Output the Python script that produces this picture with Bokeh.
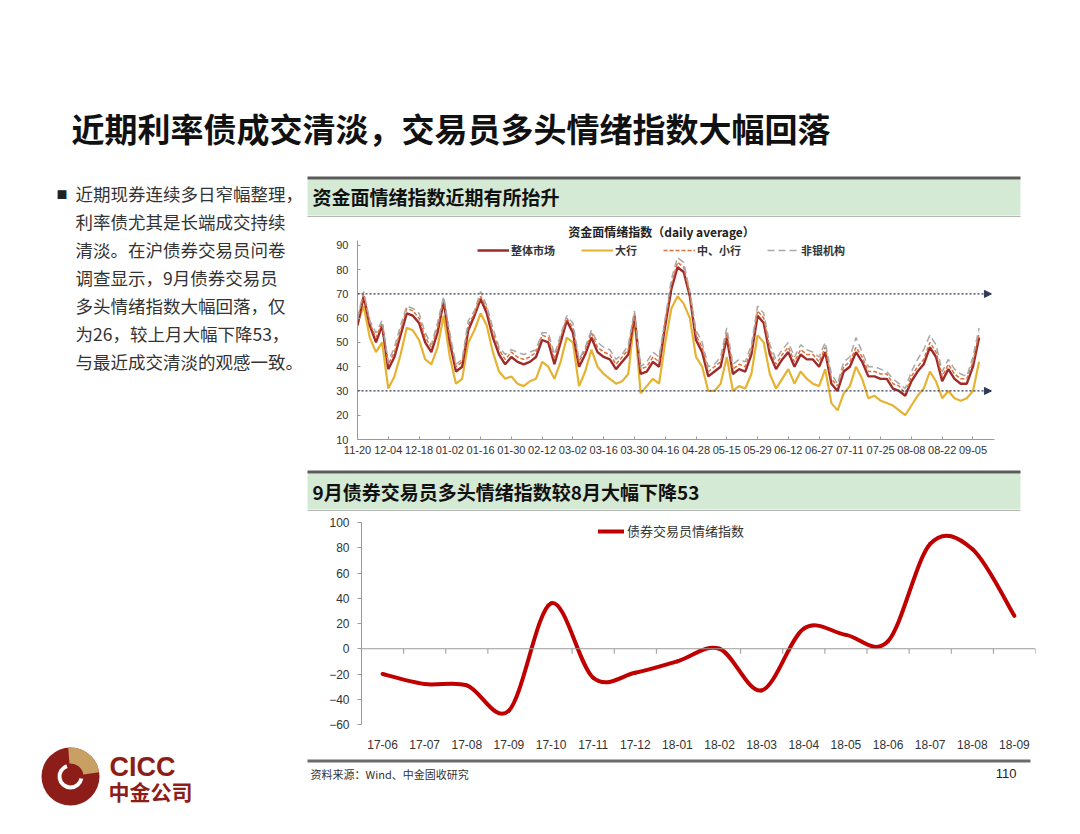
from bokeh.plotting import figure
from bokeh.layouts import column, row
from bokeh.models import (Range1d, FixedTicker, Legend, LegendItem, Arrow, NormalHead, Span)
from bokeh.core.properties import value
from bokeh.embed import file_html
from bokeh.resources import INLINE

CJK = "Noto Sans CJK SC"
LAT = "Liberation Sans"

# ---------------- data ----------------
slide_title = "近期利率债成交清淡，交易员多头情绪指数大幅回落"
body_lines = ["近期现券连续多日窄幅整理，", "利率债尤其是长端成交持续", "清淡。在沪债券交易员问卷",
              "调查显示，9月债券交易员", "多头情绪指数大幅回落，仅", "为26，较上月大幅下降53，",
              "与最近成交清淡的观感一致。"]
panel1_title = "资金面情绪指数近期有所抬升"
chart1_title = "资金面情绪指数（daily average）"
panel2_title = "9月债券交易员多头情绪指数较8月大幅下降53"
source_note = "资料来源：Wind、中金固收研究"
page_no = "110"

# daily chart: trading-day index (every 2nd trading day), tick labels every 10 days
day_ticks = ["11-20", "12-04", "12-18", "01-02", "01-16", "01-30", "02-12", "03-02", "03-16",
             "03-30", "04-16", "04-28", "05-15", "05-29", "06-12", "06-27", "07-11", "07-25",
             "08-08", "08-22", "09-05"]
day_idx = list(range(0, 203, 2))
series_names = ["整体市场", "大行", "中、小行", "非银机构"]
total_mkt = [57, 69, 57, 50, 57, 39, 44, 53, 62, 61,
             58, 50, 46, 54, 67, 50, 38, 40, 55, 61,
             68, 62, 52, 45, 41, 44, 42, 41, 42, 44,
             51, 50, 41, 50, 59, 54, 40, 45, 52, 46,
             44, 43, 39, 42, 45, 61, 37, 38, 42, 40,
             57, 72, 81, 79, 69, 51, 46, 36, 38, 40,
             52, 37, 39, 38, 45, 61, 58, 45, 39, 43,
             46, 40, 45, 43, 43, 40, 46, 33, 30, 38,
             40, 46, 42, 36, 36, 35, 35, 31, 30, 28,
             34, 38, 41, 48, 44, 34, 39, 35, 33, 33,
             40, 52]
big_banks = [58, 65, 52, 46, 50, 31, 36, 45, 56, 55,
             51, 43, 41, 48, 61, 44, 33, 35, 50, 55,
             62, 57, 46, 38, 35, 36, 33, 32, 34, 35,
             42, 40, 35, 42, 52, 50, 32, 38, 47, 40,
             37, 35, 33, 34, 37, 60, 29, 32, 35, 33,
             50, 64, 69, 66, 60, 44, 40, 30, 30, 33,
             44, 30, 32, 31, 37, 53, 50, 37, 31, 35,
             39, 33, 38, 35, 33, 32, 39, 25, 22, 29,
             32, 40, 35, 27, 28, 26, 25, 24, 22, 20,
             24, 28, 31, 38, 34, 27, 30, 27, 26, 27,
             30, 42]
small_banks = [59, 70, 58, 52, 58, 41, 46, 55, 64, 63,
               60, 52, 48, 56, 68, 52, 40, 42, 57, 62,
               69, 64, 54, 47, 43, 46, 44, 43, 44, 46,
               53, 52, 43, 52, 60, 56, 42, 47, 54, 48,
               46, 45, 41, 44, 47, 62, 39, 40, 44, 42,
               59, 74, 83, 81, 70, 53, 48, 38, 40, 42,
               54, 39, 41, 40, 47, 63, 60, 47, 41, 45,
               48, 42, 47, 45, 45, 42, 48, 35, 32, 40,
               42, 48, 44, 38, 38, 37, 37, 33, 32, 29,
               36, 40, 43, 50, 46, 36, 41, 37, 35, 35,
               42, 54]
non_banks = [60, 71, 59, 54, 59, 42, 48, 57, 65, 64,
             62, 54, 49, 58, 69, 54, 41, 43, 59, 63,
             71, 65, 56, 48, 45, 47, 46, 45, 46, 47,
             54, 54, 45, 53, 61, 58, 43, 48, 55, 50,
             48, 47, 43, 45, 49, 63, 40, 42, 46, 44,
             60, 76, 85, 83, 71, 55, 50, 40, 41, 44,
             56, 41, 43, 42, 49, 65, 62, 49, 43, 47,
             50, 44, 49, 47, 46, 44, 50, 37, 33, 42,
             44, 52, 46, 40, 40, 39, 38, 35, 33, 31,
             38, 43, 47, 53, 49, 38, 43, 39, 37, 36,
             44, 56]
guide_levels = [70, 30]

# monthly chart
months = ["17-06", "17-07", "17-08", "17-09", "17-10", "17-11", "17-12", "18-01", "18-02",
          "18-03", "18-04", "18-05", "18-06", "18-07", "18-08", "18-09"]
trader_index = [-20, -28, -29, -49, 36, -23, -19, -10, 0, -33, 16, 11, 6, 83, 79, 26]
trader_label = "债券交易员情绪指数"

# ---------------- helpers ----------------
def deco(w, h, x0, x1, y0, y1):
    p = figure(width=w, height=h, x_range=Range1d(x0, x1), y_range=Range1d(y1, y0),
               x_axis_type=None, y_axis_type=None, toolbar_location=None,
               output_backend="svg", min_border=0, frame_align=False)
    p.outline_line_color = None
    p.background_fill_color = "white"
    p.border_fill_color = "white"
    return p

def txt(p, x, y, s, size, bold=False, color="#222222", align="left", font=CJK):
    p.text(x=[x], y=[y], text=[s], text_font=value(font), text_font_size=size,
           text_font_style="bold" if bold else "normal", text_color=color,
           text_align=align, text_baseline="middle")

GREEN = "#D5EAD5"
DARK = "#5A5A5A"

# ---------------- title ----------------
LW = 302
RW = 743
t = deco(LW + RW, 170, 0, LW + RW, 0, 170)
txt(t, 71, 127, slide_title, "33px", bold=True, color="#111111")

# ---------------- left column ----------------
lf = deco(LW, 640, 0, 302, 170, 810)
txt(lf, 56, 193, "■", "11px", color="#222222")
for k, s in enumerate(body_lines):
    txt(lf, 75, 193 + 28 * k, s, "17.5px", color="#333333")
# logo
lf.circle(x=[70], y=[776], radius=29, fill_color="#8C1D18", line_color=None)
lf.annular_wedge(x=[70], y=[776], inner_radius=13, outer_radius=29,
                 start_angle=0.15, end_angle=1.65, fill_color="#C9A063", line_color=None)
lf.annular_wedge(x=[70], y=[776], inner_radius=9, outer_radius=13,
                 start_angle=1.9, end_angle=6.1, fill_color="white", line_color=None)
txt(lf, 109, 766, "CICC", "27px", bold=True, color="#8C1D18", font=LAT)
txt(lf, 108, 790, "中金公司", "21px", bold=True, color="#8C1D18")

# ---------------- right column ----------------
h1 = deco(RW, 70, 302, 1045, 170, 240)
h1.quad(left=[307], right=[1020], top=[179], bottom=[215], fill_color=GREEN, line_color=None)
h1.segment(x0=[307], x1=[1020], y0=[177.5], y1=[177.5], line_color=DARK, line_width=3)
h1.segment(x0=[307], x1=[1020], y0=[216], y1=[216], line_color="#B5B5B5", line_width=1)
txt(h1, 312, 196, panel1_title, "19px", bold=True, color="#111111")
txt(h1, 661, 231, chart1_title, "12px", bold=True, color="#222222", align="center")

# daily chart
c1 = figure(width=RW, height=222, x_range=Range1d(0, 207), y_range=Range1d(10, 92),
            toolbar_location=None, output_backend="svg", frame_align=False,
            min_border_left=55, min_border_right=51, min_border_top=0, min_border_bottom=23)
c1.outline_line_color = None
c1.grid.visible = False
r_big = c1.line(day_idx, big_banks, line_color="#E6B232", line_width=2.2)
r_tot = c1.line(day_idx, total_mkt, line_color="#9E2A2B", line_width=2.4)
r_small = c1.line(day_idx, small_banks, line_color="#E0703A", line_width=1.5, line_dash="4 2")
r_non = c1.line(day_idx, non_banks, line_color="#A8A8A8", line_width=1.5, line_dash="7 4")
for lv in guide_levels:
    c1.add_layout(Arrow(end=NormalHead(size=7, fill_color="#2E3A59", line_color="#2E3A59"),
                        x_start=0, y_start=lv, x_end=206, y_end=lv,
                        line_color="#2E3A59", line_dash="2 2", line_width=1.2))
c1.xaxis.ticker = FixedTicker(ticks=[10 * i for i in range(len(day_ticks))])
c1.xaxis.major_label_overrides = {10 * i: s for i, s in enumerate(day_ticks)}
c1.yaxis.ticker = FixedTicker(ticks=list(range(10, 91, 10)))
for ax in (c1.xaxis, c1.yaxis):
    ax.axis_line_color = "#9A9A9A"
    ax.major_tick_line_color = "#9A9A9A"
    ax.major_tick_in = 3
    ax.major_tick_out = 0
    ax.minor_tick_line_color = None
    ax.major_label_text_font = LAT
    ax.major_label_text_font_size = "11px"
    ax.major_label_text_color = "#333333"
c1.yaxis.major_label_standoff = 9
c1.xaxis.major_label_standoff = 6
leg1 = Legend(items=[LegendItem(label=series_names[0], renderers=[r_tot]),
                     LegendItem(label=series_names[1], renderers=[r_big]),
                     LegendItem(label=series_names[2], renderers=[r_small]),
                     LegendItem(label=series_names[3], renderers=[r_non])],
              orientation="horizontal", location=(120, 181),
              label_text_font=CJK, label_text_font_size="11px", label_text_font_style="bold",
              label_text_color="#333333", glyph_width=32, glyph_height=12, label_height=12,
              label_standoff=2, spacing=26, padding=0, margin=0,
              border_line_color=None, background_fill_alpha=0)
c1.add_layout(leg1)

h2 = deco(RW, 50, 302, 1045, 462, 512)
h2.quad(left=[307], right=[1020], top=[473], bottom=[509], fill_color=GREEN, line_color=None)
h2.segment(x0=[307], x1=[1020], y0=[471.5], y1=[471.5], line_color=DARK, line_width=3)
h2.segment(x0=[307], x1=[1020], y0=[510], y1=[510], line_color="#B5B5B5", line_width=1)
txt(h2, 312, 491, panel2_title, "19px", bold=True, color="#111111")

# monthly chart
n = len(months)
c2 = figure(width=RW, height=245, x_range=Range1d(-0.5, n - 0.5), y_range=Range1d(-60, 100),
            toolbar_location=None, output_backend="svg", frame_align=False,
            min_border_left=59, min_border_right=10, min_border_top=10, min_border_bottom=33)
c2.outline_line_color = None
c2.grid.visible = False
xs = list(range(n))
ys = trader_index
# zero line with category-boundary ticks
c2.add_layout(Span(location=0, dimension="width", line_color="#9A9A9A", line_width=1))
bounds = [i - 0.5 for i in range(n + 1)]
c2.segment(x0=bounds, x1=bounds, y0=[0] * len(bounds), y1=[-4] * len(bounds),
           line_color="#9A9A9A", line_width=1)
bx0, by0, bx1, by1, cx0, cy0, cx1, cy1 = [], [], [], [], [], [], [], []
for i in range(n - 1):
    a = max(i - 1, 0)
    d = min(i + 2, n - 1)
    bx0.append(xs[i]); by0.append(ys[i]); bx1.append(xs[i + 1]); by1.append(ys[i + 1])
    cx0.append(xs[i] + (xs[i + 1] - xs[a]) / 6.0)
    cy0.append(ys[i] + (ys[i + 1] - ys[a]) / 6.0)
    cx1.append(xs[i + 1] - (xs[d] - xs[i]) / 6.0)
    cy1.append(ys[i + 1] - (ys[d] - ys[i]) / 6.0)
r_tr = c2.bezier(x0=bx0, y0=by0, x1=bx1, y1=by1, cx0=cx0, cy0=cy0, cx1=cx1, cy1=cy1,
                 line_color="#C00000", line_width=4, line_cap="round")
c2.xaxis.ticker = FixedTicker(ticks=xs)
c2.xaxis.major_label_overrides = {i: s for i, s in enumerate(months)}
c2.xaxis.axis_line_color = None
c2.xaxis.major_tick_line_color = None
c2.xaxis.minor_tick_line_color = None
c2.xaxis.major_label_standoff = 9
c2.yaxis.ticker = FixedTicker(ticks=list(range(-60, 101, 20)))
c2.yaxis.axis_line_color = "#9A9A9A"
c2.yaxis.major_tick_line_color = "#9A9A9A"
c2.yaxis.major_tick_out = 4
c2.yaxis.major_tick_in = 0
c2.yaxis.minor_tick_line_color = None
c2.yaxis.major_label_standoff = 8
for ax in (c2.xaxis, c2.yaxis):
    ax.major_label_text_font = LAT
    ax.major_label_text_font_size = "12px"
    ax.major_label_text_color = "#333333"
leg2 = Legend(items=[LegendItem(label=trader_label, renderers=[r_tr])],
              location=(237, 184), label_text_font=CJK, label_text_font_size="13px",
              label_text_color="#333333", glyph_width=26, glyph_height=14, label_height=14,
              label_standoff=3, padding=0, margin=0,
              border_line_color=None, background_fill_alpha=0)
c2.add_layout(leg2)

ft = deco(RW, 53, 302, 1045, 757, 810)
ft.segment(x0=[307], x1=[1030], y0=[760.5], y1=[760.5], line_color="#6B6B6B", line_width=3)
txt(ft, 310, 773, source_note, "11px", color="#333333")
txt(ft, 1016, 773, page_no, "13px", color="#222222", align="right", font=LAT)

right_col = column(h1, c1, h2, c2, ft, spacing=0)
layout = column(t, row(lf, right_col, spacing=0), spacing=0)

open("out.html", "w").write(file_html(layout, INLINE))
